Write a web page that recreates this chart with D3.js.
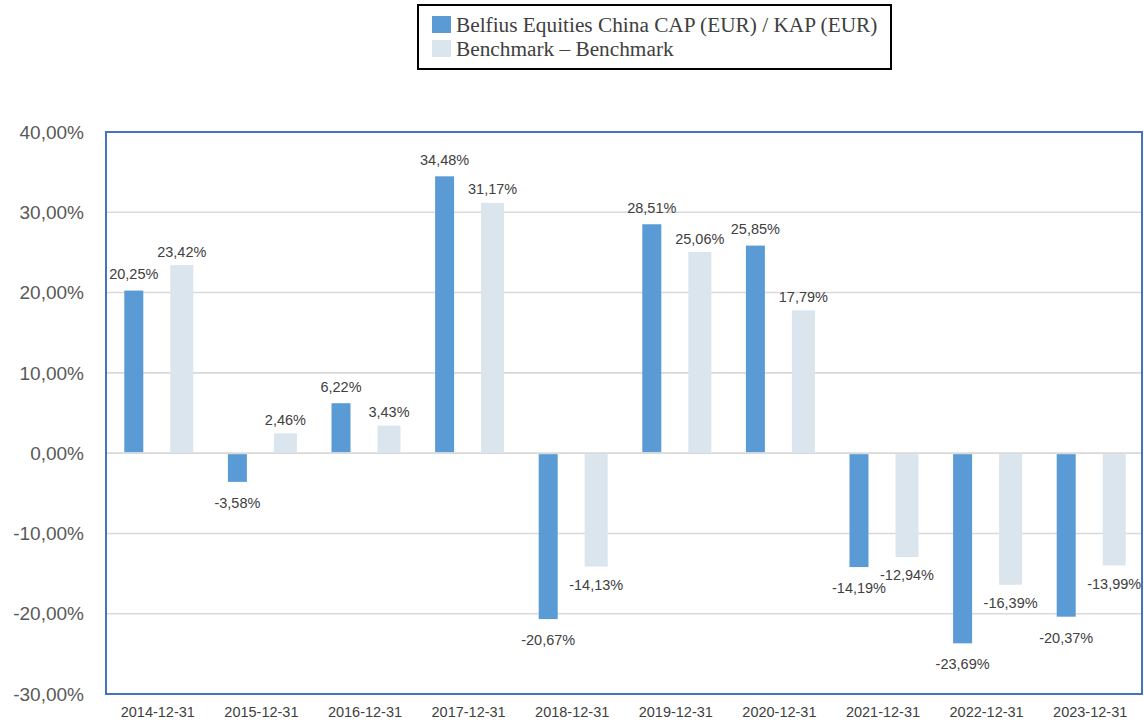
<!DOCTYPE html>
<html>
<head>
<meta charset="utf-8">
<script src="https://cdn.jsdelivr.net/npm/d3@7"></script>
<style>
  body { margin: 0; background: #fff; }
  svg { display: block; }
</style>
</head>
<body>
<div id="chart"></div>
<script>
// Data
const dates = ["2014-12-31", "2015-12-31", "2016-12-31", "2017-12-31", "2018-12-31",
               "2019-12-31", "2020-12-31", "2021-12-31", "2022-12-31", "2023-12-31"];
const fundValues = [20.25, -3.58, 6.22, 34.48, -20.67, 28.51, 25.85, -14.19, -23.69, -20.37];
const benchValues = [23.42, 2.46, 3.43, 31.17, -14.13, 25.06, 17.79, -12.94, -16.39, -13.99];
const seriesNames = ["Belfius Equities China CAP (EUR) / KAP (EUR)", "Benchmark \u2013 Benchmark"];
const yTicks = [-30, -20, -10, 0, 10, 20, 30, 40];

const W = 1144, H = 722;
const plot = {left: 106, right: 1142, top: 132, bottom: 694};
const darkColor = "#5B9BD5", lightColor = "#DBE5EE";

const svg = d3.select("#chart").append("svg")
	.attr("width", W)
	.attr("height", H);

const xscale = d3.scaleBand().domain(dates).range([plot.left, plot.right]);
const yscale = d3.scaleLinear().domain([-30, 40]).range([plot.bottom, plot.top]);

// European style: comma decimal, plain hyphen as minus
const fmt = v => d3.format(".2f")(v).replace("\u2212", "-").replace(".", ",") + "%";

// Grid lines
svg.append("g")
	.selectAll("line").data(yTicks).enter().append("line")
	.attr("x1", plot.left)
	.attr("x2", plot.right)
	.attr("y1", d => yscale(d))
	.attr("y2", d => yscale(d))
	.attr("stroke", "#D9D9D9")
	.attr("stroke-width", 1.6);

// Y axis labels
svg.append("g")
	.selectAll("text").data(yTicks).enter().append("text")
	.attr("x", 84)
	.attr("y", d => yscale(d))
	.attr("dy", "0.35em")
	.attr("text-anchor", "end")
	.style("font-family", "Arial, 'Liberation Sans', sans-serif")
	.style("font-size", "19px")
	.style("fill", "#595959")
	.text(fmt);

// X axis labels
svg.append("g")
	.selectAll("text").data(dates).enter().append("text")
	.attr("x", d => xscale(d) + xscale.bandwidth() / 2)
	.attr("y", 717)
	.attr("text-anchor", "middle")
	.style("font-family", "Arial, 'Liberation Sans', sans-serif")
	.style("font-size", "14.5px")
	.style("fill", "#404040")
	.text(d => d);

// Bars: fund (dark) and benchmark (light)
const series = [
	{values: fundValues, color: darkColor, dx: -33.5, w: 19, above: 16.5, below: 21},
	{values: benchValues, color: lightColor, dx: 12.5, w: 23, above: 13.5, below: 18}
];

for (const s of series) {
	const g = svg.append("g");
	g.selectAll("rect").data(s.values).enter().append("rect")
		.attr("x", (d, i) => xscale(dates[i]) + xscale.bandwidth() / 2 + s.dx)
		.attr("y", d => d >= 0 ? yscale(d) : yscale(0) + 1)
		.attr("width", s.w)
		.attr("height", d => Math.abs(yscale(d) - yscale(0)) - 1)
		.style("fill", s.color);

	g.selectAll("text").data(s.values).enter().append("text")
		.attr("x", (d, i) => xscale(dates[i]) + xscale.bandwidth() / 2 + s.dx + s.w / 2)
		.attr("y", d => d >= 0 ? yscale(d) - s.above : yscale(d) + s.below)
		.attr("dy", "0.35em")
		.attr("text-anchor", "middle")
		.style("font-family", "Arial, 'Liberation Sans', sans-serif")
		.style("font-size", "14.5px")
		.style("fill", "#404040")
		.text(fmt);
}

// Plot border
svg.append("rect")
	.attr("x", plot.left)
	.attr("y", plot.top)
	.attr("width", plot.right - plot.left)
	.attr("height", plot.bottom - plot.top)
	.style("fill", "none")
	.style("stroke", "#4472C4")
	.style("stroke-width", 2);

// Legend
const legend = svg.append("g");
legend.append("rect")
	.attr("x", 418)
	.attr("y", 5)
	.attr("width", 473)
	.attr("height", 64)
	.style("fill", "#fff")
	.style("stroke", "#000")
	.style("stroke-width", 2);

legend.selectAll("rect.swatch").data(seriesNames).enter().append("rect")
	.attr("class", "swatch")
	.attr("x", 432)
	.attr("y", (d, i) => 16 + i * 24)
	.attr("width", 19)
	.attr("height", 17)
	.style("fill", (d, i) => i == 0 ? darkColor : lightColor);

legend.selectAll("text").data(seriesNames).enter().append("text")
	.attr("x", 456)
	.attr("y", (d, i) => 32 + i * 24)
	.style("font-family", "'Times New Roman', 'Liberation Serif', serif")
	.style("font-size", "21.3px")
	.style("fill", "#404040")
	.text(d => d);
</script>
</body>
</html>
